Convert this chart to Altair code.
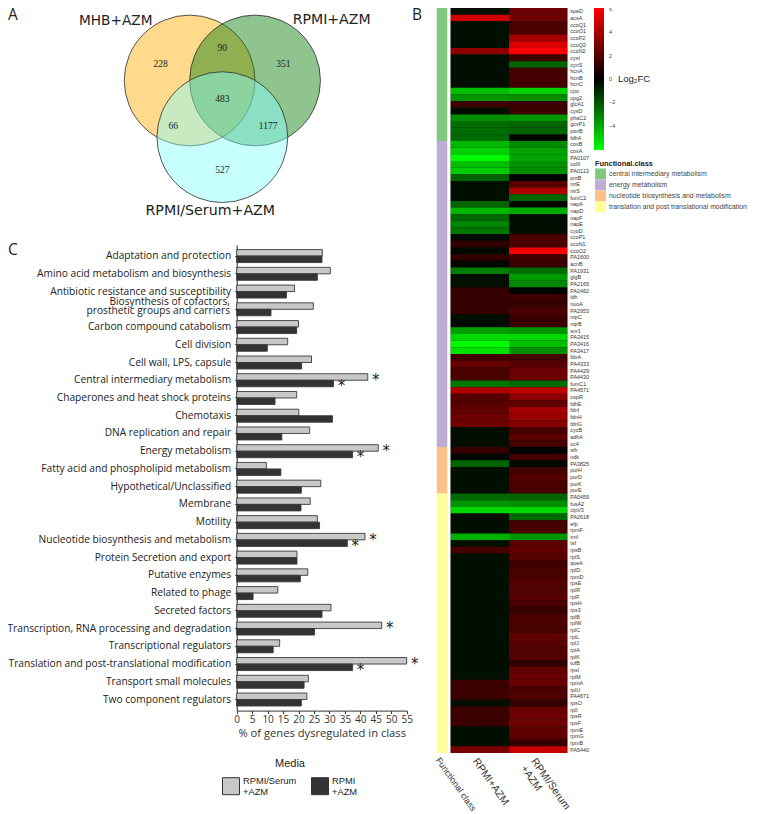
import altair as alt
import pandas as pd

W, H = 741, 806

# ---------- Venn ----------
venn_sets = ["MHB+AZM", "RPMI+AZM", "RPMI/Serum+AZM"]
venn_cx = [-0.5, 0.5, 0.0]
venn_cy = [0.0, 0.0, 0.866]
venn_counts = [228, 351, 527, 90, 66, 1177, 483]
venn_count_x = [-0.943, 0.933, 0.0, 0.0, -0.75, 0.7, 0.0]
venn_count_y = [-0.245, -0.245, 1.37, -0.5, 0.69, 0.69, 0.29]

# ---------- Bars ----------
categories = [
    "Adaptation and protection", "Amino acid metabolism and biosynthesis",
    "Antibiotic resistance and susceptibility",
    "Biosynthesis of cofactors, prosthetic groups and carriers",
    "Carbon compound catabolism", "Cell division", "Cell wall, LPS, capsule",
    "Central intermediary metabolism", "Chaperones and heat shock proteins",
    "Chemotaxis", "DNA replication and repair", "Energy metabolism",
    "Fatty acid and phospholipid metabolism", "Hypothetical/Unclassified",
    "Membrane", "Motility", "Nucleotide biosynthesis and metabolism",
    "Protein Secretion and export", "Putative enzymes", "Related to phage",
    "Secreted factors", "Transcription, RNA processing and degradation",
    "Transcriptional regulators", "Translation and post-translational modification",
    "Transport small molecules", "Two component regulators",
]
two_line_category = categories[3]
two_line_first = "Biosynthesis of cofactors,"
two_line_second = "prosthetic groups and carriers"
serum_pct = [27.7, 30.3, 18.7, 24.8, 20.0, 16.5, 24.2, 42.4, 19.4, 20.1, 23.6, 45.8, 9.6,
             27.2, 23.8, 26.1, 41.5, 19.5, 23.0, 13.3, 30.5, 46.9, 13.9, 55.0, 23.2, 22.7]
rpmi_pct = [27.6, 26.1, 16.1, 11.1, 19.4, 9.9, 21.0, 31.3, 12.4, 31.0, 14.6, 37.5, 14.3,
            20.9, 20.8, 26.8, 35.8, 19.5, 20.6, 5.3, 27.6, 25.2, 11.8, 37.5, 21.8, 20.9]
media = ["RPMI/Serum+AZM", "RPMI+AZM"]
starred_serum = ["Central intermediary metabolism", "Energy metabolism",
                 "Nucleotide biosynthesis and metabolism",
                 "Transcription, RNA processing and degradation",
                 "Translation and post-translational modification"]
starred_rpmi = ["Central intermediary metabolism", "Energy metabolism",
                "Nucleotide biosynthesis and metabolism",
                "Translation and post-translational modification"]

# ---------- Heatmap ----------
genes = ["speD","acsA","ccoQ1","ccoO1","ccoP2","ccoQ2","ccoN2","cysI","cynS","hcnA","hcnB","hcnC",
 "cpo","cpg2","glcA1","cysD","phaC2","gcvP1","poxB","fdhA",
 "coxB","coxA","PA0107","colII","PA0113","pntB","nirE","nirS","fumC2","napA","napD","napF","napE",
 "cyoD","ccoP1","ccoN1","ccoO2","PA1600","acnB","PA1931","glgB","PA2165","PA2462","ldh","nuoA",
 "PA2953","nqrC","nqrB","snr1","PA3415","PA3416","PA3417","fdxA","PA4333","PA4429","PA4430",
 "fumC1","PA4571","copR","fdhE","fdnI","fdnH","fdnG","cycB","adhA","cc4",
 "sth","ndk","PA3825","purH","purD","purK","purE",
 "PA0459","fusA2","clpV3","PA2618","efp","rpmF","rmf","tsf","rpsB","rplS","queA","rplD","rpmD",
 "rpsE","rplR","rplF","rpsH","rps3","rplB","rplW","rplC","rplL","rplJ","rplA","rplK","tufB","rpsI",
 "rplM","rpmA","rplU","PA4671","rpsO","rplI","rpsR","rpsF","rpmE","rpmG","rpmB","PA5440"]
class_names = ["central intermediary metabolism", "energy metabolism",
               "nucleotide biosynthesis and metabolism",
               "translation and post translational modification"]
class_start = [0, 20, 66, 73]
class_end = [20, 66, 73, 112]
rpmi_fc = [-0.35,5.0,-0.35,-0.35,-0.35,-0.35,3.4,-0.35,-0.35,-0.35,-0.35,-0.35,
 -4.6,-3.6,1.5,-0.3,-3.4,-2.6,-2.6,-2.6,
 -4.4,-5.0,-6.0,-4.6,-4.9,-2.4,-0.35,-0.35,-0.35,-2.4,-4.4,-2.5,-3.2,
 -2.8,-0.2,1.2,-0.2,1.2,-0.2,-3.0,-0.35,-0.35,1.3,1.3,1.3,
 1.3,-0.3,-0.3,-3.8,-5.2,-6.0,-5.4,1.6,2.5,1.8,1.8,
 -2.8,4.2,2.0,2.1,2.3,2.6,2.6,-0.3,-0.3,-0.3,
 1.3,-0.2,-2.4,-0.35,-0.35,-0.35,-0.35,
 -2.5,-3.6,-5.2,-0.35,-0.35,-0.35,-4.2,-0.35,1.7,-0.35,-0.35,-0.35,-0.35,
 -0.35,-0.35,-0.35,-0.35,-0.35,-0.35,-0.35,-0.35,-0.35,-0.35,-0.35,-0.35,-0.35,-0.35,
 -0.35,1.45,1.45,1.45,-0.35,1.45,1.45,1.45,-0.35,-0.35,-0.35,2.9]
serum_fc = [2.6,2.6,1.8,1.8,4.0,5.2,6.1,1.6,-2.4,1.7,1.7,1.7,
 -5.0,-3.4,1.45,1.45,-3.6,-2.4,-2.4,-0.2,
 -3.3,-3.9,-3.9,-3.5,-3.4,-0.1,2.1,4.2,-2.4,-0.2,-4.1,-0.3,-0.3,
 -0.3,1.8,1.8,6.0,1.6,1.45,-2.6,-3.7,-3.2,-0.1,1.45,1.3,
 1.8,1.45,1.45,-3.6,-5.2,-4.6,-3.4,1.6,2.1,2.6,2.6,
 -2.5,4.6,3.3,2.3,3.9,3.7,3.2,1.7,2.2,1.7,
 -0.1,1.6,-0.2,1.6,1.95,1.8,1.7,
 -2.4,-3.4,-5.2,-2.5,1.7,1.8,-3.6,2.2,2.3,2.1,1.45,1.8,1.8,
 1.95,1.95,2.1,1.8,1.3,1.8,1.8,1.8,2.3,2.1,1.95,1.95,1.1,2.3,
 2.5,2.5,1.8,1.95,1.2,2.5,2.6,2.6,2.3,2.2,1.3,4.8]

# ---------- Layout (image px minus the 8px page margin) ----------
bars_x_range = [228.7, 398.7]
bars_y_range = [237, 702.6]
heat_x_range = [442.7, 559.3]
strip_x_range = [428.7, 439.3]
heat_y_range = [0, 745]
R = 65.4
venn_x_scale = alt.Scale(domain=[-1, 1], range=[214.35 - R, 214.35 + R])
venn_y_scale = alt.Scale(domain=[0, 1], range=[72.5, 72.5 + R])
VENN_SIZE = (2 * R) ** 2

SANS = "Open Sans"
ARIAL = "Liberation Sans"

# ---------- Layers ----------
venn_df = pd.DataFrame({"set": venn_sets, "x": venn_cx, "y": venn_cy})
venn = alt.Chart(venn_df).mark_circle(
    size=VENN_SIZE, opacity=1, fillOpacity=0.46, stroke="#2b2b2b", strokeWidth=0.8, strokeOpacity=1
).encode(
    x=alt.X("x:Q", scale=venn_x_scale, axis=None),
    y=alt.Y("y:Q", scale=venn_y_scale, axis=None),
    color=alt.Color("set:N", scale=alt.Scale(domain=venn_sets, range=["#ffac05", "#0b7f0b", "#87ffff"]), legend=None),
)

venn_txt_df = pd.DataFrame({"n": venn_counts, "x": venn_count_x, "y": venn_count_y})
venn_txt = alt.Chart(venn_txt_df).mark_text(
    font="Liberation Serif", fontSize=9.5, color="#222", baseline="middle"
).encode(
    x=alt.X("x:Q", scale=venn_x_scale, axis=None),
    y=alt.Y("y:Q", scale=venn_y_scale, axis=None),
    text="n:Q",
)

bars_df = pd.DataFrame({
    "category": categories * 2,
    "media": [media[0]] * len(categories) + [media[1]] * len(categories),
    "pct": serum_pct + rpmi_pct,
})
bx = alt.Scale(domain=[0, 55], range=bars_x_range, nice=False)
by = alt.Scale(domain=categories, range=bars_y_range, paddingInner=0, paddingOuter=0.125)
byo = alt.Scale(domain=media, paddingInner=0, paddingOuter=0.365)

bars = alt.Chart(bars_df).mark_bar(stroke="#3a3a3a", strokeWidth=0.9).encode(
    x=alt.X("pct:Q", scale=bx, axis=alt.Axis(
        orient="bottom", offset=-(H - 702.6), values=list(range(0, 60, 5)), format="d",
        grid=False, title="% of genes dysregulated in class", titleFont=SANS,
        titleFontSize=11.2, titleFontWeight="normal", titleColor="#333", titlePadding=3,
        labelFont=SANS, labelFontSize=10, labelColor="#333", labelPadding=1,
        tickSize=3, tickColor="#333", domainColor="#333", labelFlush=False)),
    y=alt.Y("category:N", scale=by, sort=categories, axis=alt.Axis(
        orient="left", offset=-228.7, title=None, grid=False, labelOverlap=False,
        labelExpr=f"datum.label == '{two_line_category}' ? '' : datum.label",
        labelFont=SANS, labelFontSize=10.2,
        labelColor="#222", labelLimit=240, labelPadding=4,
        tickSize=2, tickColor="#333", domainColor="#222")),
    yOffset=alt.YOffset("media:N", sort=media, scale=byo),
    color=alt.Color("media:N", scale=alt.Scale(domain=media, range=["#c8c8c8", "#333333"]),
        legend=alt.Legend(
            orient="none", legendX=214, legendY=750, title="Media", columns=2,
            titleAnchor="middle", titleFont=ARIAL, titleFontSize=11, titleFontWeight="normal",
            titleColor="#222", titlePadding=8, labelFont=ARIAL, labelFontSize=9.3, labelColor="#222",
            labelExpr="datum.label == 'RPMI+AZM' ? ['RPMI', '+AZM'] : ['RPMI/Serum', '+AZM']",
            labelBaseline="bottom",
            symbolType="square", symbolSize=289, symbolStrokeColor="#333", symbolStrokeWidth=1,
            labelOffset=3, columnPadding=12, labelLimit=120)),
)


def two_line(text, dy):
    return alt.Chart(pd.DataFrame({"category": [two_line_category], "line": [text]})).mark_text(
        font=SANS, fontSize=10.2, color="#222", align="right", baseline="middle", x=222, dy=dy
    ).encode(
        y=alt.Y("category:N", scale=by, sort=categories, axis=None),
        text="line:N",
    )


stars_df = pd.DataFrame({
    "category": starred_serum + starred_rpmi,
    "media": [media[0]] * len(starred_serum) + [media[1]] * len(starred_rpmi),
    "pct": [serum_pct[categories.index(c)] for c in starred_serum]
         + [rpmi_pct[categories.index(c)] for c in starred_rpmi],
})
stars = alt.Chart(stars_df).mark_text(
    text="*", font="DejaVu Sans", fontSize=15, color="#222", baseline="middle", dx=8, dy=3
).encode(
    x=alt.X("pct:Q", scale=bx, axis=None),
    y=alt.Y("category:N", scale=by, sort=categories, axis=None),
    yOffset=alt.YOffset("media:N", sort=media, scale=byo),
)

# dark backing so the seams between the fractional-height rows stay dark
heat_back = alt.Chart(pd.DataFrame({"b": [0]})).mark_rect(color="#0c0c00").encode(
    x=alt.value(heat_x_range[0]), x2=alt.value(heat_x_range[1]),
    y=alt.value(heat_y_range[0]), y2=alt.value(heat_y_range[1]),
)

heat_df = pd.DataFrame({
    "gene": genes * 2,
    "media": ["RPMI+AZM"] * len(genes) + ["RPMI/Serum+AZM"] * len(genes),
    "fc": rpmi_fc + serum_fc,
})
heat_y = alt.Scale(domain=genes, range=heat_y_range, paddingInner=0, paddingOuter=0)
fc_scale = alt.Scale(domain=[-6.1, 0, 6.1], range=["#00ff00", "#000000", "#ff0000"], interpolate="rgb")
heat = alt.Chart(heat_df).mark_rect().encode(
    x=alt.X("media:N", sort=["RPMI+AZM", "RPMI/Serum+AZM"],
        scale=alt.Scale(domain=["RPMI+AZM", "RPMI/Serum+AZM"], range=heat_x_range, paddingInner=0, paddingOuter=0),
        axis=alt.Axis(orient="bottom", offset=-(H - 745), title=None, domain=False, ticks=False,
            labelAngle=55, labelAlign="left", labelBaseline="middle", labelFont=ARIAL, labelFontSize=10.5,
            labelColor="#333", labelPadding=6, labelOffset=-5, labelLimit=120,
            labelExpr="datum.value == 'RPMI/Serum+AZM' ? ['RPMI/Serum', '+AZM'] : datum.label")),
    y=alt.Y("gene:N", sort=genes, scale=heat_y, axis=alt.Axis(
        orient="right", offset=559.3 - W, title=None, domain=False, ticks=False, grid=False,
        labelOverlap=False, labelFont=ARIAL, labelFontSize=5.4, labelColor="#333", labelPadding=2.5)),
    color=alt.Color("fc:Q", scale=fc_scale,
        legend=alt.Legend(orient="none", legendX=586, legendY=0, title=None, type="gradient",
            gradientLength=142, gradientThickness=10, gradientStrokeWidth=0,
            values=[-4, -2, 0, 2, 4, 6], labelFont=ARIAL, labelFontSize=5.4, labelColor="#444",
            labelOffset=5, tickCount=6, direction="vertical")),
)

strip_df = pd.DataFrame({"klass": class_names, "start": class_start, "end": class_end, "col": "Functional class"})
strip = alt.Chart(strip_df).mark_rect().encode(
    x=alt.X("col:N", scale=alt.Scale(domain=["Functional class"], range=strip_x_range, paddingInner=0, paddingOuter=0),
        axis=alt.Axis(orient="bottom", offset=-(H - 745), title=None, domain=False, ticks=False,
            labelAngle=55, labelAlign="left", labelBaseline="middle", labelFont=ARIAL, labelFontSize=8.8,
            labelColor="#333", labelPadding=5, labelOffset=-4, labelLimit=120)),
    y=alt.Y("start:Q", scale=alt.Scale(domain=[0, 112], range=heat_y_range, nice=False), axis=None),
    y2="end:Q",
    color=alt.Color("klass:N", scale=alt.Scale(domain=class_names, range=["#7fc97f", "#beaed4", "#fdc086", "#ffff99"]),
        legend=alt.Legend(orient="none", legendX=587, legendY=152, title="Functional.class",
            titleFont=ARIAL, titleFontSize=7.4, titleFontWeight="bold", titleColor="#222", titlePadding=1,
            labelFont=ARIAL, labelFontSize=6.9, labelColor="#444", labelLimit=200,
            symbolType="square", symbolSize=118, symbolStrokeWidth=0, symbolOpacity=1, rowPadding=0, labelOffset=3)),
)


def label(text, x, y, size, font=SANS, color="#222", weight="normal"):
    return alt.Chart(pd.DataFrame({"t": [text]})).mark_text(
        x=x, y=y, fontSize=size, font=font, color=color, fontWeight=weight, align="left", baseline="alphabetic"
    ).encode(text="t:N")


notes = [
    label("A", 0, 12, 15.5),
    label("B", 404, 12, 15.5),
    label("C", 0, 247, 15.5),
    label("MHB+AZM", 71, 17, 13.7, "DejaVu Sans"),
    label("RPMI+AZM", 284.7, 16, 14.1, "DejaVu Sans"),
    label("RPMI/Serum+AZM", 137.5, 207, 14.2, "DejaVu Sans"),
    label("Log\u2082FC", 610, 74, 9.5, ARIAL),
]

chart = alt.layer(
    venn, venn_txt, bars, two_line(two_line_first, -5.4), two_line(two_line_second, 3.4),
    stars, strip, heat_back, heat, *notes
).resolve_scale(
    x="independent", y="independent", color="independent"
).resolve_axis(x="independent", y="independent").properties(
    width=W, height=H, padding=0,
    autosize=alt.AutoSizeParams(type="none", contains="content"),
).configure_view(stroke=None)

chart.save("out.html", embed_options={"renderer": "svg", "actions": False})
